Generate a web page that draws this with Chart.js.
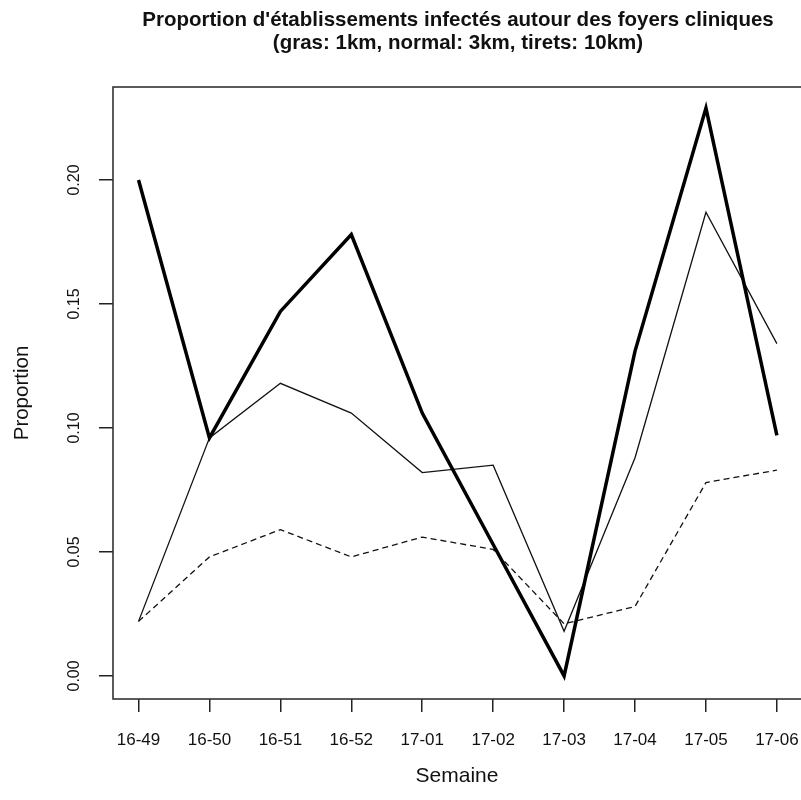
<!DOCTYPE html>
<html>
<head>
<meta charset="utf-8">
<script src="https://cdn.jsdelivr.net/npm/chart.js@4"></script>
<style>
    html, body { margin: 0; padding: 0; background: #fff; }
    #wrap { width: 801px; height: 800px; }
</style>
</head>
<body>
<div id="wrap"><canvas id="propChart" width="801" height="800"></canvas></div>
<script>
// semaines (axe x)
var semaines = ['16-49', '16-50', '16-51', '16-52', '17-01', '17-02', '17-03', '17-04', '17-05', '17-06'];

// proportions
var prop1km = [0.200, 0.096, 0.147, 0.178, 0.106, 0.053, 0.000, 0.131, 0.229, 0.097];
var prop3km = [0.022, 0.096, 0.118, 0.106, 0.082, 0.085, 0.018, 0.088, 0.187, 0.134];
var prop10km = [0.022, 0.048, 0.059, 0.048, 0.056, 0.051, 0.021, 0.028, 0.078, 0.083];

var yTicks = [0, 0.05, 0.10, 0.15, 0.20];

function toPoints(values) {
    return values.map(function (v, i) {
        return {x: i + 1, y: v};
    });
}

// cadre + titre facon R
var boxPlugin = {
    id: 'boxPlugin',
    afterDraw: function (chart) {
        var ctx = chart.ctx;
        var a = chart.chartArea;
        ctx.save();
        ctx.strokeStyle = '#333';
        ctx.lineWidth = 1.6;
        ctx.strokeRect(a.left, a.top, a.right - a.left + 3, a.bottom - a.top);
        ctx.fillStyle = '#111';
        ctx.font = 'bold 20.5px "Liberation Sans", Arial, sans-serif';
        ctx.textAlign = 'center';
        ctx.textBaseline = 'alphabetic';
        var cx = (a.left + a.right + 2) / 2;
        ctx.fillText("Proportion d'établissements infectés autour des foyers cliniques", cx, 26);
        ctx.fillText('(gras: 1km, normal: 3km, tirets: 10km)', cx, 49);
        ctx.restore();
    }
};

var fam = '"Liberation Sans", Arial, sans-serif';

new Chart(document.getElementById('propChart'), {
    type: 'line',
    data: {
        datasets: [
            {
                label: '1km',
                data: toPoints(prop1km),
                borderColor: '#000',
                borderWidth: 3.5,
                pointRadius: 0,
                tension: 0,
                fill: false
            },
            {
                label: '3km',
                data: toPoints(prop3km),
                borderColor: '#111',
                borderWidth: 1.3,
                pointRadius: 0,
                tension: 0,
                fill: false
            },
            {
                label: '10km',
                data: toPoints(prop10km),
                borderColor: '#111',
                borderWidth: 1.3,
                borderDash: [6, 4],
                pointRadius: 0,
                tension: 0,
                fill: false
            }
        ]
    },
    options: {
        responsive: false,
        animation: false,
        layout: {
            autoPadding: false,
            padding: {top: 87, left: 0, right: 0, bottom: 0}
        },
        plugins: {
            legend: {display: false},
            tooltip: {enabled: false}
        },
        scales: {
            x: {
                type: 'linear',
                min: 0.64,
                max: 10.34,
                afterBuildTicks: function (scale) {
                    scale.ticks = semaines.map(function (s, i) {
                        return {value: i + 1};
                    });
                },
                afterFit: function (scale) {
                    scale.height = 101;
                    scale.paddingLeft = 0;
                    scale.paddingRight = 0;
                },
                ticks: {
                    autoSkip: false,
                    maxRotation: 0,
                    padding: 18,
                    color: '#111',
                    font: {family: fam, size: 17},
                    callback: function (value) {
                        return semaines[value - 1];
                    }
                },
                grid: {
                    drawOnChartArea: false,
                    drawTicks: true,
                    tickLength: 13,
                    color: '#222',
                    lineWidth: 1.5
                },
                border: {display: false},
                title: {
                    display: true,
                    text: 'Semaine',
                    color: '#111',
                    font: {family: fam, size: 21},
                    padding: {top: 0, bottom: 11}
                }
            },
            y: {
                min: -0.0093,
                max: 0.2375,
                afterBuildTicks: function (scale) {
                    scale.ticks = yTicks.map(function (v) {
                        return {value: v};
                    });
                },
                afterFit: function (scale) {
                    scale.width = 113;
                    scale.paddingTop = 0;
                    scale.paddingBottom = 0;
                },
                ticks: {
                    minRotation: 90,
                    maxRotation: 90,
                    crossAlign: 'center',
                    padding: 9,
                    color: '#111',
                    font: {family: fam, size: 16},
                    callback: function (value) {
                        return value.toFixed(2);
                    }
                },
                grid: {
                    drawOnChartArea: false,
                    drawTicks: true,
                    tickLength: 14,
                    color: '#222',
                    lineWidth: 1.5
                },
                border: {display: false},
                title: {
                    display: true,
                    text: 'Proportion',
                    color: '#111',
                    font: {family: fam, size: 20.5},
                    padding: {top: 10, bottom: 0}
                }
            }
        }
    },
    plugins: [boxPlugin]
});
</script>
</body>
</html>
